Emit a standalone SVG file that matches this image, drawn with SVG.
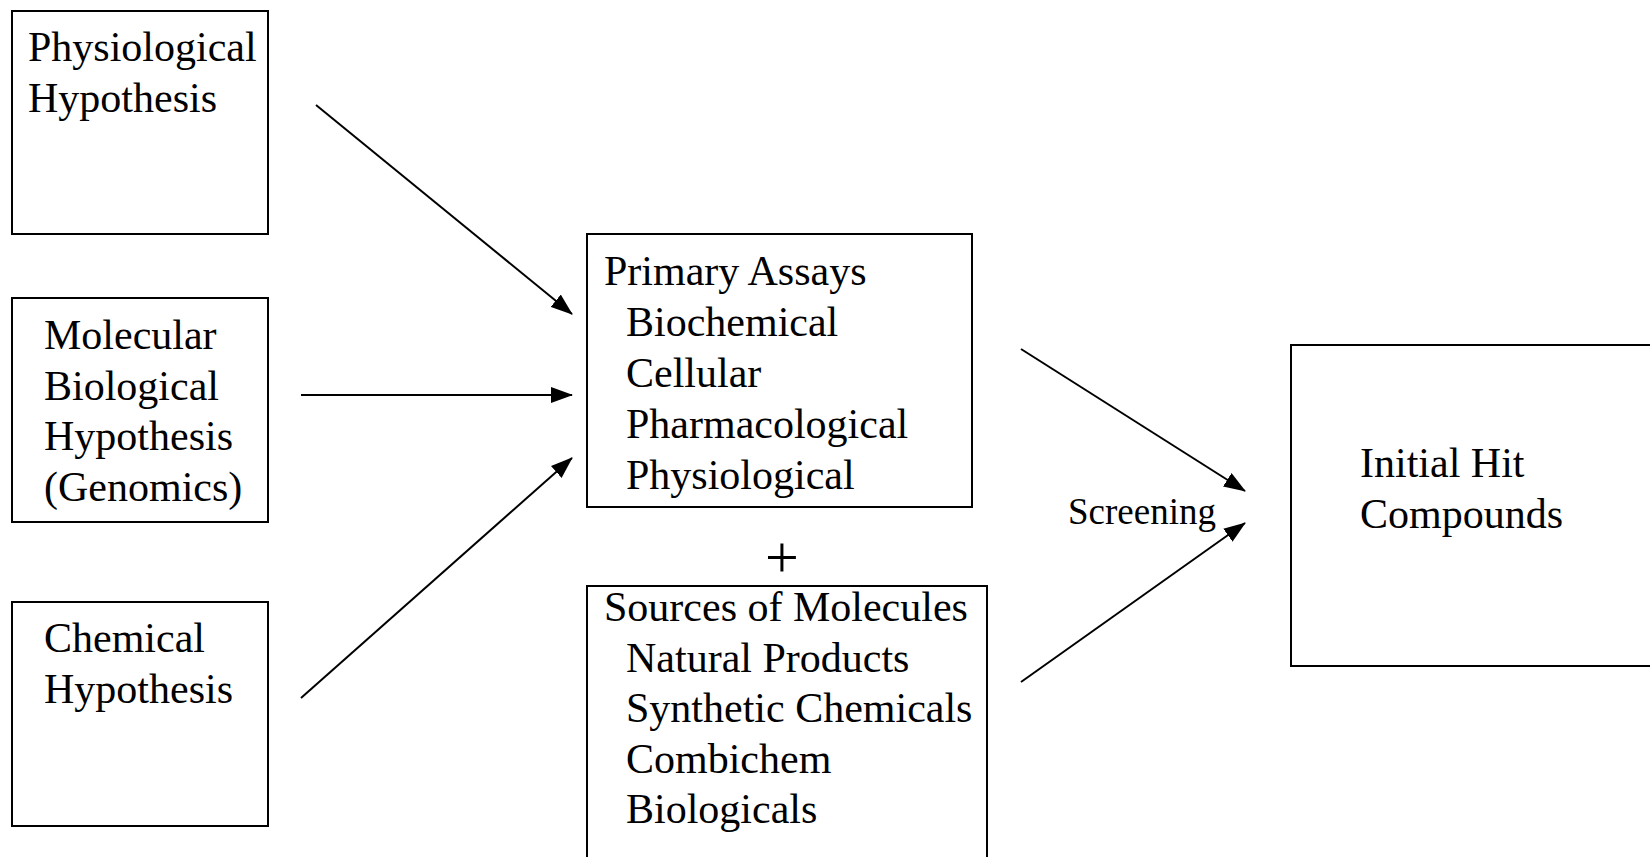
<svg xmlns="http://www.w3.org/2000/svg" width="1650" height="857" viewBox="0 0 1650 857">
<style>
.box{fill:#fff;stroke:#000;stroke-width:2}
.t{font-family:"Liberation Serif","Times New Roman",serif;font-size:42px;fill:#000}
.s{font-family:"Liberation Serif","Times New Roman",serif;font-size:37px;fill:#000}
.p{font-family:"Liberation Serif","Times New Roman",serif;font-size:60px;font-weight:300;fill:#000}
.c{stroke:#000;stroke-width:2;fill:none;marker-end:url(#ah)}
</style>
<defs>
<marker id="ah" markerUnits="userSpaceOnUse" markerWidth="22" markerHeight="16" refX="21" refY="8" orient="auto">
<path d="M0,0 L22,8 L0,16 z" fill="#000"/>
</marker>
</defs>
<rect width="1650" height="857" fill="#fff"/>
<g id="physiological">
<rect class="box" x="12" y="11" width="256" height="223"/>
<text class="t" x="28" y="61">Physiological</text>
<text class="t" x="28" y="112">Hypothesis</text>
</g>
<g id="molecular">
<rect class="box" x="12" y="298" width="256" height="224"/>
<text class="t" x="44" y="349">Molecular</text>
<text class="t" x="44" y="400">Biological</text>
<text class="t" x="44" y="450">Hypothesis</text>
<text class="t" x="44" y="501">(Genomics)</text>
</g>
<g id="chemical">
<rect class="box" x="12" y="602" width="256" height="224"/>
<text class="t" x="44" y="652">Chemical</text>
<text class="t" x="44" y="703">Hypothesis</text>
</g>
<g id="assays">
<rect class="box" x="587" y="234" width="385" height="273"/>
<text class="t" x="604" y="285">Primary Assays</text>
<text class="t" x="626" y="336">Biochemical</text>
<text class="t" x="626" y="387">Cellular</text>
<text class="t" x="626" y="438">Pharmacological</text>
<text class="t" x="626" y="489">Physiological</text>
</g>
<g id="plus">
<text class="p" x="782" y="577" text-anchor="middle">+</text>
</g>
<g id="sources">
<rect class="box" x="587" y="586" width="400" height="290"/>
<text class="t" x="604" y="621">Sources of Molecules</text>
<text class="t" x="626" y="672">Natural Products</text>
<text class="t" x="626" y="722">Synthetic Chemicals</text>
<text class="t" x="626" y="773">Combichem</text>
<text class="t" x="626" y="823">Biologicals</text>
</g>
<g id="hits">
<rect class="box" x="1291" y="345" width="380" height="321"/>
<text class="t" x="1360" y="477">Initial Hit</text>
<text class="t" x="1360" y="528">Compounds</text>
</g>
<g id="connectors">
<line class="c" x1="316" y1="105" x2="572" y2="314"/>
<line class="c" x1="301" y1="395" x2="572" y2="395"/>
<line class="c" x1="301" y1="698" x2="572" y2="458"/>
<line class="c" x1="1021" y1="349" x2="1245" y2="491"/>
<line class="c" x1="1021" y1="682" x2="1245" y2="523"/>
<text class="s" x="1068" y="524">Screening</text>
</g>
</svg>
